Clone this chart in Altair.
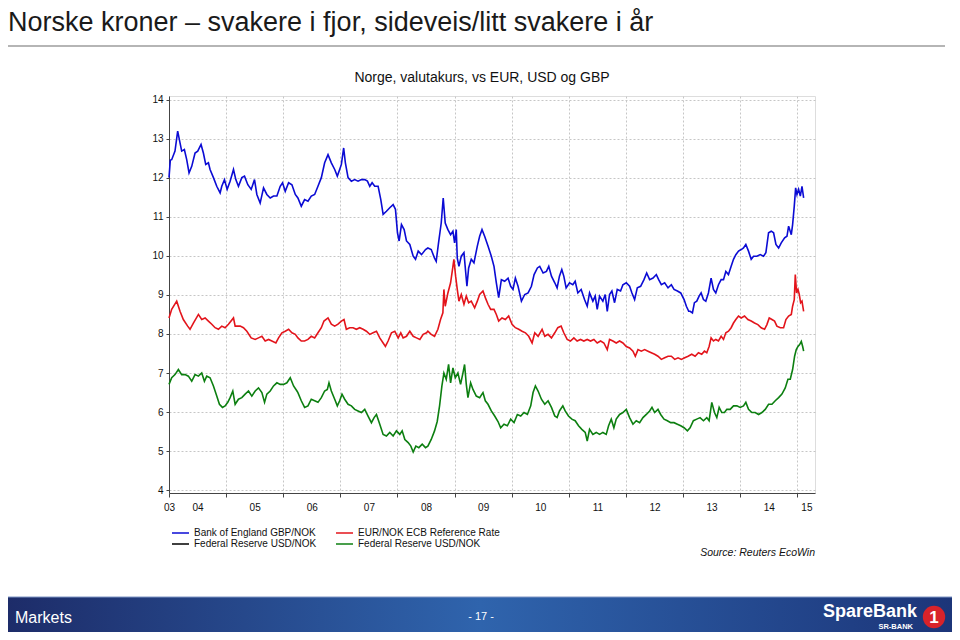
import altair as alt
import pandas as pd

# ---------------- data (decimal year, NOK) ----------------
gbp_nok = [
    (2004.000, 12.00), (2004.023, 12.45), (2004.047, 12.46), (2004.105, 12.68), (2004.152, 13.19),
    (2004.193, 12.89), (2004.222, 12.68), (2004.269, 12.72), (2004.310, 12.46), (2004.351, 12.12),
    (2004.398, 12.29), (2004.456, 12.63), (2004.503, 12.68), (2004.561, 12.85), (2004.602, 12.63),
    (2004.643, 12.34), (2004.690, 12.38), (2004.719, 12.21), (2004.778, 12.00), (2004.836, 11.78),
    (2004.895, 11.61), (2004.924, 11.78), (2004.971, 11.95), (2005.018, 11.70), (2005.070, 11.91),
    (2005.129, 12.21), (2005.170, 11.95), (2005.216, 11.78), (2005.275, 12.00), (2005.322, 12.04),
    (2005.380, 11.82), (2005.439, 11.70), (2005.497, 11.95), (2005.538, 11.57), (2005.596, 11.35),
    (2005.655, 11.74), (2005.713, 11.57), (2005.772, 11.48), (2005.830, 11.53), (2005.889, 11.53),
    (2005.947, 11.78), (2005.988, 11.87), (2006.035, 11.65), (2006.094, 11.87), (2006.152, 11.82),
    (2006.211, 11.57), (2006.257, 11.48), (2006.316, 11.27), (2006.374, 11.44), (2006.433, 11.40),
    (2006.491, 11.53), (2006.550, 11.57), (2006.608, 11.78), (2006.667, 12.00), (2006.725, 12.38),
    (2006.784, 12.59), (2006.842, 12.38), (2006.901, 12.21), (2006.947, 12.04), (2006.988, 12.21),
    (2007.018, 12.34), (2007.058, 12.76), (2007.088, 12.38), (2007.135, 12.00), (2007.193, 11.91),
    (2007.251, 11.95), (2007.310, 11.91), (2007.368, 11.95), (2007.427, 11.95), (2007.474, 11.91),
    (2007.515, 11.78), (2007.556, 11.87), (2007.602, 11.78), (2007.661, 11.78), (2007.708, 11.44),
    (2007.749, 11.06), (2007.807, 11.14), (2007.865, 11.23), (2007.924, 11.31), (2007.965, 11.19),
    (2008.000, 10.59), (2008.029, 10.38), (2008.070, 10.80), (2008.117, 10.67), (2008.158, 10.38),
    (2008.216, 10.29), (2008.275, 9.99), (2008.316, 9.91), (2008.363, 10.12), (2008.421, 10.03),
    (2008.491, 10.16), (2008.532, 10.20), (2008.591, 10.16), (2008.649, 9.94), (2008.678, 9.86),
    (2008.719, 10.33), (2008.766, 10.84), (2008.801, 11.48), (2008.836, 10.84), (2008.883, 10.67),
    (2008.930, 10.54), (2008.971, 10.63), (2009.000, 10.33), (2009.029, 10.67), (2009.047, 9.94),
    (2009.076, 9.73), (2009.117, 9.99), (2009.164, 10.08), (2009.216, 9.22), (2009.246, 9.69),
    (2009.292, 9.91), (2009.339, 9.82), (2009.398, 10.25), (2009.439, 10.50), (2009.480, 10.67),
    (2009.526, 10.50), (2009.585, 10.25), (2009.643, 9.99), (2009.690, 9.73), (2009.731, 9.31),
    (2009.772, 8.93), (2009.819, 9.39), (2009.877, 9.35), (2009.936, 9.43), (2009.982, 9.22),
    (2010.023, 9.14), (2010.064, 9.43), (2010.111, 9.22), (2010.170, 8.84), (2010.228, 9.01),
    (2010.287, 9.05), (2010.345, 9.22), (2010.392, 9.52), (2010.450, 9.69), (2010.491, 9.73),
    (2010.550, 9.56), (2010.608, 9.60), (2010.649, 9.73), (2010.696, 9.48), (2010.754, 9.31),
    (2010.795, 9.18), (2010.836, 9.48), (2010.877, 9.65), (2010.912, 9.48), (2010.953, 9.18),
    (2011.012, 9.31), (2011.070, 9.26), (2011.111, 9.35), (2011.158, 9.05), (2011.216, 9.14),
    (2011.275, 8.88), (2011.322, 8.71), (2011.363, 9.05), (2011.421, 8.84), (2011.462, 8.97),
    (2011.497, 8.63), (2011.538, 8.97), (2011.596, 8.84), (2011.637, 9.01), (2011.673, 8.58),
    (2011.713, 9.01), (2011.754, 9.10), (2011.801, 8.80), (2011.848, 9.14), (2011.906, 9.10),
    (2011.947, 9.26), (2012.006, 9.31), (2012.064, 9.22), (2012.105, 9.05), (2012.152, 8.88),
    (2012.199, 9.18), (2012.257, 9.22), (2012.316, 9.39), (2012.363, 9.56), (2012.415, 9.39),
    (2012.474, 9.43), (2012.532, 9.52), (2012.573, 9.39), (2012.620, 9.26), (2012.678, 9.31),
    (2012.737, 9.18), (2012.795, 9.26), (2012.842, 9.14), (2012.901, 9.10), (2012.959, 9.05),
    (2013.018, 8.88), (2013.058, 8.71), (2013.099, 8.58), (2013.123, 8.58), (2013.164, 8.54),
    (2013.199, 8.80), (2013.240, 8.84), (2013.281, 8.97), (2013.316, 9.05), (2013.357, 8.88),
    (2013.398, 8.84), (2013.444, 9.05), (2013.491, 9.43), (2013.532, 9.14), (2013.573, 9.05),
    (2013.620, 9.26), (2013.667, 9.39), (2013.708, 9.39), (2013.749, 9.60), (2013.795, 9.52),
    (2013.842, 9.73), (2013.883, 9.91), (2013.924, 10.03), (2013.971, 10.12), (2014.018, 10.16),
    (2014.058, 10.20), (2014.099, 10.29), (2014.146, 10.12), (2014.193, 9.91), (2014.234, 9.99),
    (2014.292, 9.99), (2014.351, 10.03), (2014.409, 9.99), (2014.450, 10.08), (2014.497, 10.59),
    (2014.544, 10.63), (2014.585, 10.59), (2014.626, 10.29), (2014.673, 10.20), (2014.719, 10.33),
    (2014.778, 10.46), (2014.819, 10.50), (2014.848, 10.76), (2014.895, 10.54), (2014.918, 10.80),
    (2014.947, 11.27), (2014.971, 11.74), (2014.994, 11.57), (2015.023, 11.70), (2015.053, 11.53),
    (2015.082, 11.78), (2015.111, 11.48),
]

eur_nok = [
    (2004.000, 8.41), (2004.047, 8.63), (2004.135, 8.84), (2004.193, 8.58), (2004.251, 8.37),
    (2004.327, 8.20), (2004.368, 8.12), (2004.427, 8.28), (2004.515, 8.50), (2004.573, 8.37),
    (2004.632, 8.41), (2004.690, 8.33), (2004.749, 8.25), (2004.807, 8.16), (2004.865, 8.12),
    (2004.924, 8.20), (2004.982, 8.16), (2005.041, 8.25), (2005.129, 8.41), (2005.158, 8.20),
    (2005.246, 8.20), (2005.304, 8.16), (2005.363, 8.07), (2005.439, 7.90), (2005.509, 7.86),
    (2005.567, 7.90), (2005.626, 7.94), (2005.684, 7.82), (2005.743, 7.86), (2005.801, 7.82),
    (2005.871, 7.77), (2005.918, 7.90), (2005.977, 8.03), (2006.035, 8.07), (2006.094, 8.12),
    (2006.152, 8.03), (2006.211, 7.99), (2006.257, 7.90), (2006.316, 7.82), (2006.374, 7.82),
    (2006.433, 7.86), (2006.491, 7.94), (2006.550, 7.90), (2006.608, 8.03), (2006.667, 8.16),
    (2006.713, 8.33), (2006.784, 8.41), (2006.842, 8.25), (2006.901, 8.20), (2006.959, 8.25),
    (2007.018, 8.33), (2007.064, 8.37), (2007.105, 8.12), (2007.164, 8.16), (2007.222, 8.16),
    (2007.281, 8.12), (2007.339, 8.16), (2007.398, 8.12), (2007.456, 8.07), (2007.515, 7.99),
    (2007.573, 8.03), (2007.632, 8.07), (2007.690, 7.90), (2007.749, 7.77), (2007.789, 7.68),
    (2007.836, 7.82), (2007.895, 8.03), (2007.953, 8.07), (2008.012, 7.90), (2008.058, 8.03),
    (2008.099, 7.90), (2008.158, 7.94), (2008.216, 8.07), (2008.275, 7.94), (2008.333, 7.90),
    (2008.392, 7.86), (2008.450, 7.99), (2008.509, 8.03), (2008.532, 8.07), (2008.591, 7.99),
    (2008.649, 7.94), (2008.708, 8.12), (2008.754, 8.37), (2008.795, 8.54), (2008.813, 9.14),
    (2008.836, 8.71), (2008.883, 9.05), (2008.930, 9.31), (2008.971, 9.73), (2008.988, 9.91),
    (2009.018, 9.48), (2009.047, 9.14), (2009.076, 8.84), (2009.117, 9.01), (2009.164, 8.76),
    (2009.205, 8.97), (2009.246, 8.80), (2009.292, 8.84), (2009.351, 8.67), (2009.398, 8.84),
    (2009.439, 9.01), (2009.497, 9.10), (2009.538, 8.93), (2009.585, 8.76), (2009.632, 8.63),
    (2009.690, 8.63), (2009.731, 8.50), (2009.772, 8.33), (2009.830, 8.41), (2009.889, 8.37),
    (2009.947, 8.46), (2010.006, 8.25), (2010.064, 8.16), (2010.123, 8.12), (2010.181, 8.07),
    (2010.240, 8.03), (2010.298, 7.94), (2010.357, 7.77), (2010.404, 8.03), (2010.462, 7.94),
    (2010.532, 8.12), (2010.579, 7.94), (2010.637, 7.99), (2010.696, 7.90), (2010.754, 8.03),
    (2010.807, 8.16), (2010.865, 8.20), (2010.912, 8.03), (2010.971, 7.86), (2011.029, 7.82),
    (2011.088, 7.90), (2011.146, 7.82), (2011.205, 7.86), (2011.263, 7.82), (2011.322, 7.86),
    (2011.380, 7.82), (2011.439, 7.86), (2011.497, 7.77), (2011.556, 7.82), (2011.614, 7.77),
    (2011.673, 7.60), (2011.713, 7.86), (2011.772, 7.82), (2011.830, 7.77), (2011.889, 7.82),
    (2011.947, 7.77), (2012.006, 7.68), (2012.064, 7.64), (2012.123, 7.56), (2012.164, 7.43),
    (2012.211, 7.60), (2012.269, 7.56), (2012.327, 7.60), (2012.386, 7.56), (2012.444, 7.52),
    (2012.503, 7.48), (2012.561, 7.43), (2012.620, 7.35), (2012.678, 7.39), (2012.737, 7.43),
    (2012.795, 7.43), (2012.854, 7.35), (2012.912, 7.39), (2012.971, 7.35), (2013.029, 7.39),
    (2013.088, 7.43), (2013.152, 7.48), (2013.211, 7.43), (2013.269, 7.52), (2013.327, 7.48),
    (2013.374, 7.56), (2013.415, 7.52), (2013.456, 7.68), (2013.491, 7.90), (2013.532, 7.82),
    (2013.573, 7.86), (2013.620, 7.82), (2013.667, 7.94), (2013.708, 7.86), (2013.749, 8.03),
    (2013.795, 8.07), (2013.842, 8.16), (2013.883, 8.28), (2013.924, 8.37), (2013.971, 8.46),
    (2014.018, 8.41), (2014.076, 8.46), (2014.135, 8.37), (2014.193, 8.33), (2014.251, 8.28),
    (2014.310, 8.24), (2014.368, 8.16), (2014.427, 8.12), (2014.468, 8.24), (2014.509, 8.41),
    (2014.556, 8.37), (2014.602, 8.33), (2014.643, 8.20), (2014.702, 8.16), (2014.760, 8.16),
    (2014.801, 8.37), (2014.848, 8.46), (2014.895, 8.50), (2014.918, 8.71), (2014.947, 8.88),
    (2014.965, 9.52), (2014.988, 9.05), (2015.012, 9.14), (2015.035, 9.01), (2015.058, 8.80),
    (2015.082, 8.84), (2015.111, 8.58),
]

usd_nok = [
    (2004.000, 6.71), (2004.047, 6.88), (2004.105, 6.96), (2004.164, 7.09), (2004.222, 6.96),
    (2004.281, 6.96), (2004.339, 6.92), (2004.398, 6.79), (2004.456, 6.96), (2004.515, 6.92),
    (2004.573, 7.00), (2004.620, 6.79), (2004.661, 6.92), (2004.719, 6.88), (2004.778, 6.67),
    (2004.836, 6.41), (2004.883, 6.20), (2004.936, 6.12), (2004.982, 6.16), (2005.029, 6.25),
    (2005.070, 6.37), (2005.117, 6.54), (2005.158, 6.20), (2005.216, 6.33), (2005.275, 6.37),
    (2005.333, 6.46), (2005.392, 6.54), (2005.450, 6.41), (2005.509, 6.54), (2005.567, 6.62),
    (2005.626, 6.50), (2005.673, 6.25), (2005.713, 6.46), (2005.772, 6.54), (2005.830, 6.67),
    (2005.889, 6.75), (2005.947, 6.71), (2006.006, 6.71), (2006.064, 6.75), (2006.123, 6.88),
    (2006.181, 6.67), (2006.240, 6.54), (2006.257, 6.50), (2006.316, 6.29), (2006.374, 6.12),
    (2006.433, 6.16), (2006.491, 6.33), (2006.550, 6.29), (2006.608, 6.25), (2006.667, 6.37),
    (2006.725, 6.54), (2006.772, 6.58), (2006.801, 6.75), (2006.842, 6.54), (2006.901, 6.33),
    (2006.947, 6.16), (2006.988, 6.29), (2007.029, 6.46), (2007.076, 6.33), (2007.135, 6.20),
    (2007.193, 6.16), (2007.251, 6.07), (2007.310, 6.03), (2007.368, 5.99), (2007.427, 6.07),
    (2007.485, 5.90), (2007.544, 5.73), (2007.591, 5.86), (2007.632, 5.94), (2007.690, 5.69),
    (2007.749, 5.43), (2007.807, 5.39), (2007.865, 5.48), (2007.924, 5.39), (2007.982, 5.52),
    (2008.041, 5.43), (2008.082, 5.52), (2008.129, 5.30), (2008.187, 5.22), (2008.234, 5.13),
    (2008.275, 4.98), (2008.322, 5.13), (2008.374, 5.09), (2008.433, 5.18), (2008.491, 5.09),
    (2008.532, 5.13), (2008.591, 5.30), (2008.649, 5.52), (2008.696, 5.76), (2008.737, 6.16),
    (2008.778, 6.67), (2008.813, 7.00), (2008.854, 6.84), (2008.895, 7.22), (2008.930, 6.75),
    (2008.971, 7.13), (2009.012, 6.88), (2009.058, 7.00), (2009.105, 6.71), (2009.146, 7.00),
    (2009.175, 7.22), (2009.205, 6.71), (2009.234, 6.37), (2009.281, 6.75), (2009.322, 6.58),
    (2009.380, 6.41), (2009.439, 6.37), (2009.497, 6.50), (2009.538, 6.29), (2009.585, 6.20),
    (2009.643, 6.03), (2009.702, 5.90), (2009.760, 5.76), (2009.807, 5.60), (2009.865, 5.69),
    (2009.924, 5.65), (2009.982, 5.82), (2010.041, 5.73), (2010.099, 5.94), (2010.158, 5.90),
    (2010.216, 5.99), (2010.275, 5.94), (2010.333, 6.16), (2010.374, 6.50), (2010.415, 6.67),
    (2010.462, 6.54), (2010.520, 6.33), (2010.579, 6.20), (2010.637, 6.29), (2010.696, 6.12),
    (2010.754, 5.90), (2010.795, 5.86), (2010.836, 6.03), (2010.895, 6.16), (2010.936, 6.03),
    (2010.994, 5.90), (2011.053, 5.82), (2011.111, 5.78), (2011.170, 5.65), (2011.228, 5.56),
    (2011.287, 5.48), (2011.322, 5.26), (2011.363, 5.56), (2011.421, 5.43), (2011.480, 5.48),
    (2011.538, 5.43), (2011.596, 5.48), (2011.655, 5.43), (2011.696, 5.65), (2011.743, 5.82),
    (2011.789, 5.60), (2011.830, 5.82), (2011.889, 5.94), (2011.947, 5.99), (2012.006, 6.07),
    (2012.064, 5.86), (2012.123, 5.69), (2012.181, 5.78), (2012.240, 5.73), (2012.298, 5.86),
    (2012.357, 5.94), (2012.415, 6.03), (2012.456, 6.12), (2012.503, 5.99), (2012.561, 6.07),
    (2012.608, 5.94), (2012.667, 5.82), (2012.725, 5.78), (2012.784, 5.73), (2012.842, 5.73),
    (2012.901, 5.69), (2012.959, 5.65), (2013.018, 5.60), (2013.076, 5.52), (2013.123, 5.60),
    (2013.181, 5.78), (2013.240, 5.82), (2013.298, 5.86), (2013.357, 5.78), (2013.415, 5.86),
    (2013.456, 5.78), (2013.503, 6.25), (2013.550, 5.99), (2013.591, 5.86), (2013.632, 6.12),
    (2013.678, 5.99), (2013.725, 5.99), (2013.766, 6.07), (2013.825, 6.07), (2013.883, 6.16),
    (2013.942, 6.16), (2014.000, 6.12), (2014.058, 6.16), (2014.099, 6.25), (2014.146, 6.07),
    (2014.205, 5.99), (2014.263, 5.99), (2014.322, 5.94), (2014.380, 5.99), (2014.439, 6.07),
    (2014.497, 6.20), (2014.556, 6.20), (2014.614, 6.29), (2014.673, 6.37), (2014.731, 6.46),
    (2014.789, 6.62), (2014.836, 6.84), (2014.877, 6.84), (2014.918, 7.09), (2014.953, 7.43),
    (2014.982, 7.60), (2015.012, 7.68), (2015.041, 7.73), (2015.070, 7.81), (2015.094, 7.68),
    (2015.111, 7.56),
]

# legend order is column-major: column 1 = GBP, black USD; column 2 = EUR, green USD
series_names = [
    "Bank of England GBP/NOK",
    "Federal Reserve USD/NOK ",   # black entry in the legend (no data drawn)
    "EUR/NOK ECB Reference Rate",
    "Federal Reserve USD/NOK",
]
series_colors = ["#0b0bd4", "#000000", "#e3141b", "#0c7f10"]

year_ticks = list(range(2004, 2016))
label_pos = [2004.0, 2004.5, 2005.5, 2006.5, 2007.5, 2008.5, 2009.5,
             2010.5, 2011.5, 2012.5, 2013.5, 2014.5, 2015.16]
label_txt = ["03", "04", "05", "06", "07", "08", "09",
             "10", "11", "12", "13", "14", "15"]
y_ticks = list(range(4, 15))

main_title = "Norske kroner \u2013 svakere i fjor, sideveis/litt svakere i \u00e5r"
sub_title = "Norge, valutakurs, vs EUR, USD og GBP"
source_txt = "Source: Reuters EcoWin"

# ---------------- build table ----------------
rows = []
for name, pts in [("Bank of England GBP/NOK", gbp_nok),
                  ("EUR/NOK ECB Reference Rate", eur_nok),
                  ("Federal Reserve USD/NOK", usd_nok)]:
    for t, v in pts:
        rows.append({"serie": name, "t": t, "v": v})
df = pd.DataFrame(rows)

FONT = "Liberation Sans, Arial, sans-serif"
OX, OY = 169, 96  # page position of plot origin

xscale = alt.Scale(domain=[2004, 2015.31], nice=False, zero=False)
yscale = alt.Scale(domain=[3.93, 14.09], nice=False, zero=False)

label_expr = " : ".join(f"datum.value == {p} ? '{t}'" for p, t in zip(label_pos, label_txt)) + " : ''"

lines = alt.Chart(df).mark_line(strokeWidth=1.6).encode(
    x=alt.X("t:Q", scale=xscale,
            axis=alt.Axis(values=year_ticks, labels=False, title=None, orient="bottom",
                          grid=True, gridDash=[2, 2], gridColor="#c6c6c6",
                          ticks=True, tickSize=4, tickColor="#444444",
                          domainColor="#444444")),
    y=alt.Y("v:Q", scale=yscale,
            axis=alt.Axis(values=y_ticks, title=None, grid=True, gridDash=[2, 2],
                          gridColor="#c6c6c6", tickSize=3, tickColor="#444444",
                          domainColor="#444444", labelFontSize=10, labelColor="#111111",
                          labelPadding=3, labelFont=FONT)),
    color=alt.Color("serie:N",
                    scale=alt.Scale(domain=series_names, range=series_colors),
                    legend=alt.Legend(title=None, orient="none", legendX=2, legendY=431,
                                      columns=2, symbolType="M-1,0H2.4", symbolSize=100,
                                      symbolStrokeWidth=1.5, labelFontSize=10, labelFont=FONT,
                                      labelColor="#111111", columnPadding=16, rowPadding=0,
                                      labelOffset=11, padding=0, labelLimit=250)),
)

label_axis = alt.Chart(pd.DataFrame({"t": label_pos})).mark_point(opacity=0).encode(
    x=alt.X("t:Q", scale=xscale,
            axis=alt.Axis(values=label_pos, labelExpr=label_expr, title=None, orient="bottom",
                          ticks=False, tickSize=0, domain=False, grid=False,
                          labelFontSize=10, labelColor="#111111", labelFont=FONT,
                          labelPadding=9, labelFlush=False, labelOverlap=False,
                          labelBound=False)),
)

one = pd.DataFrame({"k": [0]})


def txt(text, px, py, size, color="#111111", align="left", baseline="middle",
        weight="normal", style="normal"):
    return alt.Chart(pd.DataFrame({"txt": [text]})).mark_text(
        align=align, baseline=baseline, fontSize=size, color=color,
        fontWeight=weight, fontStyle=style, font=FONT,
    ).encode(x=alt.value(px - OX), y=alt.value(py - OY), text="txt:N")


sep_line = alt.Chart(one).mark_rule(color="#b5b5b5", strokeWidth=2).encode(
    x=alt.value(8 - OX), x2=alt.value(945 - OX), y=alt.value(46 - OY))

footer = alt.Chart(one).mark_rect(
    color=alt.LinearGradient(
        gradient="linear", x1=0, x2=1, y1=0, y2=0,
        stops=[alt.GradientStop(color="#1d2c69", offset=0),
               alt.GradientStop(color="#2f64ad", offset=0.5),
               alt.GradientStop(color="#1c3579", offset=1)]),
).encode(x=alt.value(8 - OX), x2=alt.value(952 - OX),
         y=alt.value(597 - OY), y2=alt.value(632 - OY))

footer_line = alt.Chart(one).mark_rule(color="#7f95c4", strokeWidth=1).encode(
    x=alt.value(8 - OX), x2=alt.value(952 - OX), y=alt.value(597 - OY))

logo_circle = alt.Chart(one).mark_circle(color="#d8232a", opacity=1, size=500).encode(
    x=alt.value(934 - OX), y=alt.value(617 - OY))

chart = alt.layer(
    footer, footer_line, sep_line,
    lines, label_axis,
    txt(main_title, 8, 31, 27, color="#1a1a1a", baseline="alphabetic"),
    txt(sub_title, 482, 78, 14, align="center"),
    txt(source_txt, 815, 553, 10.5, align="right", style="italic"),
    txt("Markets", 15, 618, 16, color="#ffffff"),
    txt("- 17 -", 481, 617, 11, color="#ffffff", align="center"),
    txt("SpareBank", 917, 612, 18, color="#ffffff", align="right", weight="bold"),
    txt("SR-BANK", 913, 627, 7.5, color="#ffffff", align="right", weight="bold"),
    logo_circle,
    txt("1", 934, 618, 17, color="#ffffff", align="center", weight="bold"),
).resolve_axis(x="independent").properties(
    width=646, height=397,
    padding={"left": 161, "top": 88, "right": 137, "bottom": 139},
    autosize=alt.AutoSizeParams(type="none"),
).configure_view(stroke="#8c8c8c", strokeWidth=1).configure(font=FONT, background="white")

chart.save("out.html", embed_options={"renderer": "svg", "actions": False})
